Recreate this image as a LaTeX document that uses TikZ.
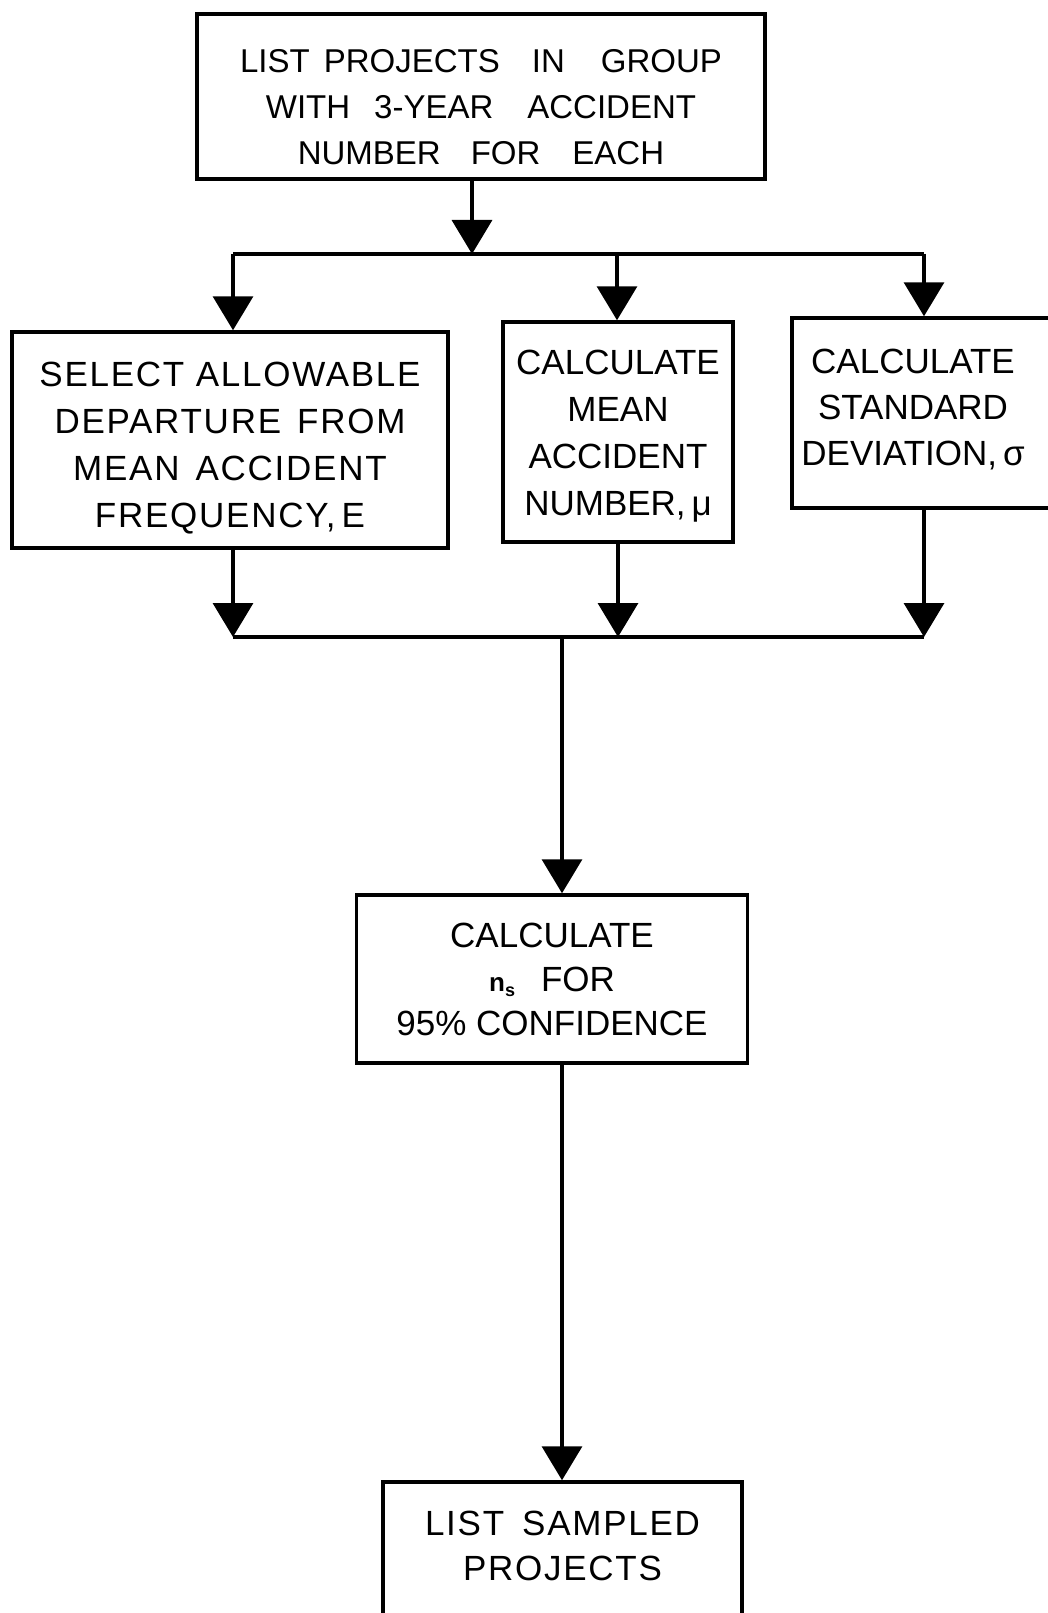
\documentclass[tikz,border=0pt]{standalone}
\usepackage{fontspec}
\setmainfont{Liberation Sans}
\newfontfamily\widefont[LetterSpace=5]{Liberation Sans}
\usetikzlibrary{arrows.meta}
\tikzset{
  box/.style={draw, line width=3.5pt, align=center, inner sep=0pt,
    text height=#1, text depth=0pt},
  conn/.style={line width=3.5pt},
  arr/.style={conn, -{Triangle[width=40pt,length=34pt]}},
}
\newcommand{\rline}[1]{\makebox[206pt]{#1}}
\begin{document}
\begin{tikzpicture}[x=1pt,y=-1pt]
\useasboundingbox (0,0) rectangle (1047,1613);
\fill[white] (0,0) rectangle (1047,1613);

% boxes
\node[box=137pt, minimum width=568pt, minimum height=165pt,
      font=\fontsize{33}{46}\selectfont] (list) at (481,96.5)
  {LIST\hspace{14pt}PROJECTS\hspace{32pt}IN\hspace{36pt}GROUP\\
   WITH\hspace{24pt}3-YEAR\hspace{34pt}ACCIDENT\\
   NUMBER\hspace{30pt}FOR\hspace{32pt}EACH};

\node[box=174pt, minimum width=436pt, minimum height=216pt,
      font=\widefont\fontsize{35}{47}\selectfont] (sel) at (230,440)
  {SELECT ALLOWABLE\\
   DEPARTURE\hspace{16pt}FROM\\
   MEAN\hspace{16pt}ACCIDENT\\
   FREQUENCY,\hspace{6pt}E};

\node[box=166pt, minimum width=230pt, minimum height=220pt,
      font=\fontsize{35}{46.7}\selectfont] (mean) at (618,432)
  {CALCULATE\\ MEAN\\ ACCIDENT\\ NUMBER,\,μ};

\node[box=0pt, text depth=80pt, minimum width=280pt, minimum height=190pt,
      inner xsep=18pt, text width=244pt, align=left,
      font=\fontsize{35}{46}\selectfont] (sd) at (932,413)
  {\rline{CALCULATE}\\ \rline{STANDARD}\\ \rline{DEVIATION,\,σ}};

\node[box=112pt, minimum width=391pt, minimum height=168pt,
      font=\fontsize{35}{44}\selectfont] (ns) at (552,979)
  {CALCULATE\\
   {\fontsize{26}{26}\selectfont\bfseries n}\raisebox{-5pt}{\fontsize{18}{18}\selectfont\bfseries s}\hspace{26pt}FOR\\
   95\%\ CONFIDENCE};

\node[box=62pt, minimum width=359pt, minimum height=134pt,
      font=\widefont\fontsize{35}{45}\selectfont] (samp) at (562.5,1549)
  {LIST\hspace{18pt}SAMPLED\\ PROJECTS};

% junction points
\coordinate (tj) at (472,254);
\coordinate (tl) at (233,254);
\coordinate (tm) at (617,254);
\coordinate (tr) at (924,254);
\coordinate (bl) at (233,637);
\coordinate (bm) at (618,637);
\coordinate (br) at (924,637);
\coordinate (bc) at (562,637);

% connectors
\draw[arr] (list.south -| tj) -- (tj);
\draw[conn] (tl) -- (tr);
\draw[arr] (tl) -- (sel.north -| tl);
\draw[arr] (tm) -- (mean.north -| tm);
\draw[arr] (tr) -- (sd.north -| tr);

\draw[arr] (sel.south -| bl) -- (bl);
\draw[arr] (mean.south -| bm) -- (bm);
\draw[arr] (sd.south -| br) -- (br);
\draw[conn] (bl) -- (br);

\draw[arr] (bc) -- (ns.north -| bc);
\draw[arr] (ns.south -| bc) -- (samp.north -| bc);
\end{tikzpicture}
\end{document}
